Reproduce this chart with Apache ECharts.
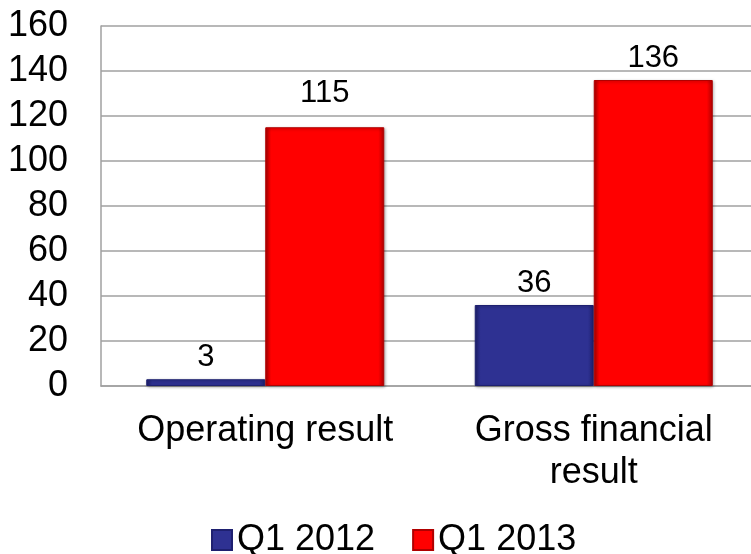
<!DOCTYPE html>
<html>
<head>
<meta charset="utf-8">
<script src="https://cdn.jsdelivr.net/npm/echarts@6/dist/echarts.min.js"></script>
<style>
html,body{margin:0;padding:0;background:#fff;overflow:hidden;}
#c{width:758px;height:554px;}
</style>
</head>
<body>
<div id="c"></div>
<script>
const categories = ['Operating result', 'Gross financial\nresult'];
const q12012 = [3, 36];
const q12013 = [115, 136];
const seriesNames = ['Q1 2012', 'Q1 2013'];
const yTicks = [0, 20, 40, 60, 80, 100, 120, 140, 160];

const FONT = '"Liberation Sans", Arial, sans-serif';
const chart = echarts.init(document.getElementById('c'), null, {renderer: 'canvas'});

function barStyle(base, dark) {
  return {
    color: {
      type: 'linear', x: 0, y: 0, x2: 1, y2: 0,
      colorStops: [
        {offset: 0, color: dark},
        {offset: 0.05, color: base},
        {offset: 0.95, color: base},
        {offset: 1, color: dark}
      ]
    },
    borderColor: dark,
    borderWidth: 1,
    shadowColor: 'rgba(0,0,0,0.35)',
    shadowBlur: 3,
    shadowOffsetX: 1,
    shadowOffsetY: 1
  };
}

const labelBase = {
  show: true,
  position: 'top',
  distance: 6,
  color: '#000',
  fontFamily: FONT,
  fontSize: 31
};

chart.setOption({
  animation: false,
  backgroundColor: '#fff',
  grid: {left: 101, top: 26, right: 0, bottom: 168, containLabel: false},
  legend: {
    data: seriesNames,
    left: 206,
    top: 517,
    itemWidth: 20,
    itemHeight: 20,
    itemGap: 37,
    icon: 'rect',
    textStyle: {fontFamily: FONT, fontSize: 36, color: '#000', padding: [0, 0, 0, 0]}
  },
  xAxis: {
    type: 'category',
    data: categories,
    axisLine: {show: true, lineStyle: {color: '#a0a0a0', width: 1.5}},
    axisTick: {show: false},
    axisLabel: {
      color: '#000', fontFamily: FONT, fontSize: 36, lineHeight: 42, margin: 24, interval: 0
    }
  },
  yAxis: {
    type: 'value',
    min: yTicks[0],
    max: yTicks[yTicks.length - 1],
    interval: yTicks[1] - yTicks[0],
    axisLine: {show: true, lineStyle: {color: '#a0a0a0', width: 1.5}},
    axisTick: {show: false},
    splitLine: {show: true, lineStyle: {color: '#a0a0a0', width: 1.5}},
    axisLabel: {color: '#000', fontFamily: FONT, fontSize: 36, margin: 33}
  },
  series: [
    {
      name: seriesNames[0],
      type: 'bar',
      data: q12012,
      barWidth: 119,
      barGap: '0%',
      itemStyle: barStyle('#2E3192', '#1e2070'),
      label: Object.assign({}, labelBase)
    },
    {
      name: seriesNames[1],
      type: 'bar',
      data: q12013.map((v, i) => i === 0 ? {value: v, label: {distance: 18}} : v),
      barWidth: 119,
      barGap: '0%',
      itemStyle: barStyle('#FF0000', '#b00000'),
      label: Object.assign({}, labelBase)
    }
  ]
});
</script>
</body>
</html>
